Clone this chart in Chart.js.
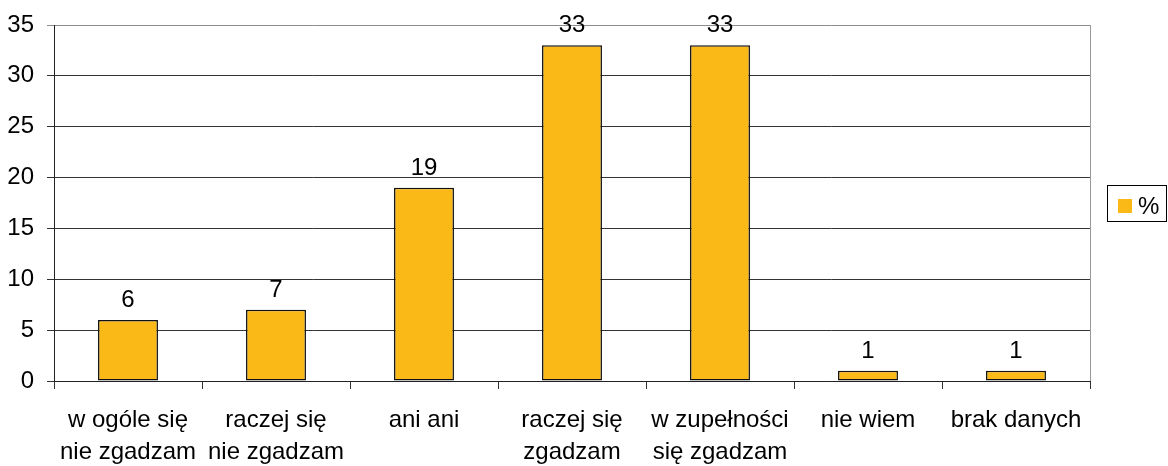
<!DOCTYPE html>
<html>
<head>
<meta charset="utf-8">
<script src="https://cdn.jsdelivr.net/npm/chart.js@4/dist/chart.umd.min.js"></script>
<style>
  html, body { margin: 0; padding: 0; background: #fff; }
  #wrap { width: 1168px; height: 466px; position: relative; }
</style>
</head>
<body>
<div id="wrap"><canvas id="c"></canvas></div>
<script>
// Survey answers (percent of respondents)
const categories = [
  ['w ogóle się', 'nie zgadzam'],
  ['raczej się', 'nie zgadzam'],
  'ani ani',
  ['raczej się', 'zgadzam'],
  ['w zupełności', 'się zgadzam'],
  'nie wiem',
  'brak danych'
];
const percentValues = [6, 7, 19, 33, 33, 1, 1];
const seriesName = '%';
const yTicks = [0, 5, 10, 15, 20, 25, 30, 35];

const FONT = 'Liberation Sans, Arial, sans-serif';
const FONT_SIZE = 24;
const BAR_COLOR = '#FBB918';

// Value labels above each bar
const valueLabels = {
  id: 'valueLabels',
  afterDatasetsDraw(chart) {
    const ctx = chart.ctx;
    const meta = chart.getDatasetMeta(0);
    ctx.save();
    ctx.font = FONT_SIZE + 'px ' + FONT;
    ctx.fillStyle = '#000';
    ctx.textAlign = 'center';
    ctx.textBaseline = 'alphabetic';
    meta.data.forEach((bar, i) => {
      ctx.fillText(String(chart.data.datasets[0].data[i]), bar.x, bar.y - 13);
    });
    ctx.restore();
  }
};

// Right edge of the plot frame and the boxed legend on the right
const frameAndLegend = {
  id: 'frameAndLegend',
  beforeDatasetsDraw(chart) {
    const { ctx, chartArea } = chart;
    ctx.save();
    ctx.strokeStyle = '#999';
    ctx.lineWidth = 1;
    ctx.beginPath();
    ctx.moveTo(Math.round(chartArea.right) + 0.5, chartArea.top);
    ctx.lineTo(Math.round(chartArea.right) + 0.5, chartArea.bottom);
    ctx.stroke();
    ctx.restore();
  },
  afterDraw(chart) {
    const ctx = chart.ctx;
    ctx.save();
    ctx.strokeStyle = '#000';
    ctx.lineWidth = 1;
    ctx.strokeRect(1107.5, 185.5, 59, 36);
    ctx.fillStyle = BAR_COLOR;
    ctx.fillRect(1118, 199, 14, 14);
    ctx.fillStyle = '#000';
    ctx.font = FONT_SIZE + 'px ' + FONT;
    ctx.textAlign = 'left';
    ctx.textBaseline = 'middle';
    ctx.fillText(chart.data.datasets[0].label, 1138, 207);
    ctx.restore();
  }
};

new Chart(document.getElementById('c'), {
  type: 'bar',
  data: {
    labels: categories,
    datasets: [{
      label: seriesName,
      data: percentValues,
      backgroundColor: BAR_COLOR,
      borderColor: '#111',
      borderWidth: 1.5,
      borderSkipped: false,
      categoryPercentage: 1,
      barPercentage: 0.405
    }]
  },
  options: {
    responsive: true,
    maintainAspectRatio: false,
    animation: false,
    layout: { padding: { top: 25, right: 78, left: 0, bottom: 0 } },
    plugins: {
      legend: { display: false },
      tooltip: { enabled: false }
    },
    scales: {
      x: {
        afterFit(s) { s.height = 85; },
        grid: {
          offset: true,
          drawOnChartArea: false,
          drawTicks: true,
          tickLength: 8,
          color: '#333'
        },
        border: { display: true, color: '#222', width: 1 },
        ticks: {
          color: '#000',
          font: { family: FONT, size: FONT_SIZE, lineHeight: 1.333 },
          padding: 15,
          maxRotation: 0,
          autoSkip: false
        }
      },
      y: {
        min: 0,
        max: 35,
        afterFit(s) { s.width = 54; s.paddingTop = 0; s.paddingBottom = 0; },
        afterBuildTicks(s) { s.ticks = yTicks.map(v => ({ value: v })); },
        grid: {
          color: (c) => (c.tick && c.tick.value === 35 ? '#8c8c8c' : '#333'),
          tickLength: 7,
          lineWidth: 1
        },
        border: { display: true, color: '#222', width: 1 },
        ticks: {
          color: '#000',
          font: { family: FONT, size: FONT_SIZE },
          padding: 13
        }
      }
    }
  },
  plugins: [valueLabels, frameAndLegend]
});
</script>
</body>
</html>
